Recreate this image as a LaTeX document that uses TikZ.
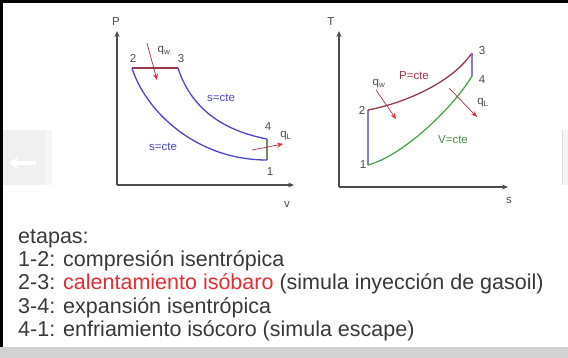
\documentclass[tikz,border=0pt]{standalone}
\usepackage{fontspec}
\setmainfont{Liberation Sans}
\usetikzlibrary{arrows.meta}

\definecolor{cycblue}{RGB}{75,70,205}
\definecolor{pline}{RGB}{150,55,75}
\definecolor{vline}{RGB}{80,165,80}
\definecolor{heatred}{RGB}{228,45,50}
\definecolor{labgray}{RGB}{75,75,75}

\begin{document}
\begin{tikzpicture}[x=1pt, y=-1pt,
    lab/.style={font=\fontsize{11.5}{12}\selectfont, text=labgray, inner sep=1pt},
    axis/.style={line width=1.1pt, labgray, -{Stealth[length=6pt, width=5pt]}},
    curve/.style={line width=1.3pt},
    heat/.style={pline, line width=0.7pt, -{Stealth[length=6pt, width=5pt, heatred]}},
    stage/.style={anchor=base west, font=\fontsize{21.5}{22}\selectfont, text=black!78, inner sep=0pt}]
  \useasboundingbox (0,0) rectangle (568,358);

  % Frame
  \fill[black] (0,0) rectangle (568,3);
  \fill[black] (0,0) rectangle (3,347);
  \fill[gray!35] (0,347) rectangle (568,358);
  \fill[gray!12] (3,130) rectangle (45,185);
  \fill[gray!7] (45,130) rectangle (52,185);
  \draw[white, line width=4pt, -{Stealth[length=9pt, width=12pt]}] (36,163) -- (9,163);
  \fill[gray!8] (562,130) rectangle (568,185);
  \draw[gray!25] (562,130) -- (562,185);

  % P-v diagram
  \coordinate (pvo) at (117,185);
  \coordinate (pvtop) at (117,31);
  \coordinate (pvright) at (294,185);
  \draw[axis] (pvo) -- (pvtop);
  \draw[axis] (pvo) -- (pvright);
  \node[lab] (pP) at (116,22) {P};
  \node[lab] (pv) at (287,204) {v};

  \coordinate (a1) at (267,160);
  \coordinate (a2) at (132,68);
  \coordinate (a3) at (178,68);
  \coordinate (a4) at (267,139);
  \draw[curve, pline] (a2) -- (a3);
  \draw[curve, cycblue] (a3) .. controls (189,102) and (215,129) .. (a4);
  \draw[curve, gray!70!vline] (a4) -- (a1);
  \draw[curve, cycblue] (a1) .. controls (195,160) and (145,110) .. (a2);

  \node[lab] (n2) at (133,58) {2};
  \node[lab] (n3) at (181,59) {3};
  \node[lab] (n4) at (268,127) {4};
  \node[lab] (n1) at (270,172) {1};
  \node[lab, cycblue] (sup) at (221,98) {s=cte};
  \node[lab, cycblue] (slow) at (163,147) {s=cte};

  % Heat in and out (P-v)
  \coordinate (qwa) at (147,43);
  \coordinate (qwb) at (157,80);
  \coordinate (qla) at (252,150);
  \coordinate (qlb) at (283,144);
  \draw[heat] (qwa) -- (qwb);
  \draw[heat] (qla) -- (qlb);
  \node[lab] (qw1) at (164,51) {q\textsubscript{w}};
  \node[lab] (ql1) at (286,136) {q\textsubscript{L}};

  % T-s diagram
  \coordinate (tso) at (339,187);
  \coordinate (tstop) at (339,31);
  \coordinate (tsright) at (508,187);
  \draw[axis] (tso) -- (tstop);
  \draw[axis] (tso) -- (tsright);
  \node[lab] (tT) at (331,22) {T};
  \node[lab] (ts) at (509,200) {s};

  \coordinate (b1) at (368,165);
  \coordinate (b2) at (368,110);
  \coordinate (b3) at (472,53);
  \coordinate (b4) at (472,76);
  \draw[curve, cycblue!70] (b1) -- (b2);
  \draw[curve, pline] (b2) .. controls (400,104) and (450,85) .. (b3);
  \draw[curve, cycblue!70] (b3) -- (b4);
  \draw[curve, vline] (b1) .. controls (405,155) and (455,105) .. (b4);

  \node[lab] (m1) at (363,165) {1};
  \node[lab] (m2) at (362,110) {2};
  \node[lab] (m3) at (482,51) {3};
  \node[lab] (m4) at (482,80) {4};
  \node[lab, pline] (pcte) at (414,76) {P=cte};
  \node[lab, vline!85!black] (vcte) at (453,140) {V=cte};

  % Heat in and out (T-s)
  \coordinate (qwc) at (376,90);
  \coordinate (qwd) at (396,119);
  \coordinate (qlc) at (449,88);
  \coordinate (qld) at (477,117);
  \draw[heat] (qwc) -- (qwd);
  \draw[heat] (qlc) -- (qld);
  \node[lab] (qw2) at (379,84) {q\textsubscript{w}};
  \node[lab] (ql2) at (483,103) {q\textsubscript{L}};

  % Stages
  \node[stage] (etapas) at (18,244) {etapas:};
  \node[stage] (st12) at (18,267) {1-2: compresión isentrópica};
  \node[stage] (st23) at (18,290) {2-3: {\color{heatred}calentamiento isóbaro} (simula inyección de gasoil)};
  \node[stage] (st34) at (18,313) {3-4: expansión isentrópica};
  \node[stage] (st41) at (18,336) {4-1: enfriamiento isócoro (simula escape)};
\end{tikzpicture}
\end{document}
